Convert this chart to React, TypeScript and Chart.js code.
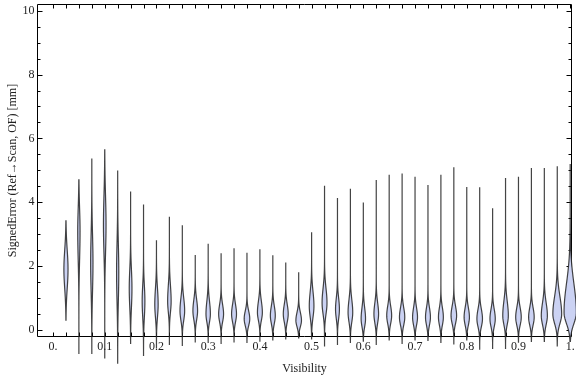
import { useEffect, useRef } from 'react';
import { Chart, registerables } from 'chart.js';

Chart.register(...registerables);

// ---- data ----
const positions = [
  0.025, 0.05, 0.075, 0.1, 0.125, 0.15, 0.175, 0.2, 0.225, 0.25,
  0.275, 0.3, 0.325, 0.35, 0.375, 0.4, 0.425, 0.45, 0.475, 0.5,
  0.525, 0.55, 0.575, 0.6, 0.625, 0.65, 0.675, 0.7, 0.725, 0.75,
  0.775, 0.8, 0.825, 0.85, 0.875, 0.9, 0.925, 0.95, 0.975, 1.0,
];
const highs = [
  3.42, 4.7, 5.35, 5.64, 4.98, 4.34, 3.93, 2.79, 3.55, 3.28,
  2.35, 2.7, 2.4, 2.56, 2.42, 2.53, 2.34, 2.11, 1.81, 3.06,
  4.52, 4.13, 4.42, 3.99, 4.7, 4.86, 4.9, 4.8, 4.54, 4.86,
  5.1, 4.48, 4.47, 3.81, 4.76, 4.8, 5.07, 5.07, 5.13, 5.2,
];
const lows = [
  0.31, -0.73, -0.73, -0.89, -1.04, -0.42, -0.8, -0.55, -0.45, -0.48,
  -0.37, -0.39, -0.42, -0.37, -0.39, -0.35, -0.31, -0.28, -0.25, -0.28,
  -0.5, -0.45, -0.39, -0.35, -0.45, -0.31, -0.42, -0.31, -0.33, -0.39,
  -0.44, -0.31, -0.6, -0.58, -0.58, -0.38, -0.36, -0.36, -0.5, -0.36,
];
const modes = [
  1.9, 3.1, 2.1, 3.3, 1.8, 1.3, 0.9, 0.8, 0.9, 0.6,
  0.6, 0.5, 0.5, 0.5, 0.35, 0.55, 0.45, 0.5, 0.3, 0.75,
  0.85, 0.65, 0.55, 0.35, 0.5, 0.45, 0.4, 0.4, 0.4, 0.4,
  0.45, 0.4, 0.35, 0.35, 0.45, 0.4, 0.4, 0.45, 0.5, 0.55,
];
const widths = [
  0.32, 0.18, 0.18, 0.2, 0.17, 0.21, 0.21, 0.26, 0.27, 0.36,
  0.36, 0.34, 0.38, 0.38, 0.43, 0.38, 0.38, 0.38, 0.43, 0.36,
  0.38, 0.3, 0.36, 0.34, 0.36, 0.38, 0.41, 0.38, 0.38, 0.38,
  0.43, 0.41, 0.43, 0.41, 0.43, 0.43, 0.43, 0.47, 0.68, 0.95,
];
const spreadUp = [
  0.6, 0.7, 0.9, 0.9, 0.9, 0.6, 0.5, 0.5, 0.5, 0.4,
  0.35, 0.4, 0.3, 0.3, 0.25, 0.35, 0.3, 0.3, 0.25, 0.45,
  0.45, 0.35, 0.4, 0.35, 0.35, 0.3, 0.3, 0.3, 0.3, 0.3,
  0.3, 0.3, 0.3, 0.3, 0.45, 0.3, 0.3, 0.4, 0.55, 0.9,
];
const spreadDown = [
  0.6, 0.9, 0.9, 0.9, 0.9, 0.6, 0.5, 0.4, 0.35, 0.3,
  0.28, 0.25, 0.25, 0.25, 0.22, 0.25, 0.25, 0.25, 0.2, 0.35,
  0.35, 0.3, 0.3, 0.25, 0.28, 0.25, 0.25, 0.25, 0.25, 0.25,
  0.25, 0.25, 0.25, 0.25, 0.28, 0.25, 0.25, 0.28, 0.3, 0.35,
];

const xTickValues = [0, 0.1, 0.2, 0.3, 0.4, 0.5, 0.6, 0.7, 0.8, 0.9, 1.0];
const xTickLabels = ['0.', '0.1', '0.2', '0.3', '0.4', '0.5', '0.6', '0.7', '0.8', '0.9', '1.'];
const yTickValues = [0, 2, 4, 6, 8, 10];
const yTickLabels = ['0', '2', '4', '6', '8', '10'];
const xTitle = 'Visibility';
const yTitle = 'SignedError (Ref\u2192Scan, OF) [mm]';

const BIN_HALF = 0.0125;
const FONT = '12px "Liberation Serif", "DejaVu Serif", serif';

const framePlugin = {
  id: 'mmaFrame',
  beforeDatasetsDraw(chart: any) {
    const { ctx, chartArea } = chart;
    const xs = chart.scales.x;
    const ys = chart.scales.y;
    const L = Math.round(chartArea.left) + 0.5;
    const R = Math.round(chartArea.right) - 0.5;
    const T = Math.round(chartArea.top) + 0.5;
    const B = Math.round(chartArea.bottom) - 0.5;
    ctx.save();
    ctx.strokeStyle = '#000';
    ctx.lineWidth = 1;
    ctx.beginPath();
    ctx.rect(L, T, R - L, B - T);
    ctx.stroke();
    ctx.beginPath();
    for (let k = 0; k <= 20; k++) {
      const v = k * 0.5;
      const py = Math.round(ys.getPixelForValue(v)) + 0.5;
      const len = k % 4 === 0 ? 5 : 3;
      ctx.moveTo(L, py); ctx.lineTo(L + len, py);
      ctx.moveTo(R, py); ctx.lineTo(R - len, py);
    }
    for (let k = 0; k <= 40; k++) {
      const px = Math.round(xs.getPixelForValue(k * 0.025)) + 0.5;
      const len = 4;
      ctx.moveTo(px, B); ctx.lineTo(px, B - len);
      ctx.moveTo(px, T); ctx.lineTo(px, T + len);
    }
    ctx.stroke();
    ctx.fillStyle = '#222';
    ctx.font = FONT;
    ctx.textAlign = 'right';
    ctx.textBaseline = 'middle';
    yTickValues.forEach((v, i) => {
      ctx.fillText(yTickLabels[i], L - 3, ys.getPixelForValue(v));
    });
    ctx.textAlign = 'center';
    ctx.textBaseline = 'top';
    xTickValues.forEach((v, i) => {
      ctx.fillText(xTickLabels[i], xs.getPixelForValue(v), B + 4);
    });
    ctx.textBaseline = 'alphabetic';
    ctx.fillText(xTitle, (chartArea.left + chartArea.right) / 2, 372);
    ctx.save();
    ctx.translate(13, (chartArea.top + chartArea.bottom) / 2);
    ctx.rotate(-Math.PI / 2);
    ctx.textBaseline = 'middle';
    ctx.fillText(yTitle, 0, 0);
    ctx.restore();
    ctx.restore();
  },
};

const violinPlugin = {
  id: 'violins',
  afterDatasetsDraw(chart: any) {
    const { ctx } = chart;
    const xs = chart.scales.x;
    const ys = chart.scales.y;
    const unit = xs.getPixelForValue(BIN_HALF) - xs.getPixelForValue(0);
    ctx.save();
    positions.forEach((p, i) => {
      const cx = xs.getPixelForValue(p);
      const W = widths[i] * unit;
      const lo = lows[i];
      const hi = highs[i];
      const m = modes[i];
      const n = 160;
      const pts: [number, number][] = [];
      for (let j = 0; j <= n; j++) {
        const v = lo + ((hi - lo) * j) / n;
        const s = v >= m ? spreadUp[i] : spreadDown[i];
        const g = Math.exp(-0.5 * ((v - m) / s) ** 2);
        pts.push([W * g, ys.getPixelForValue(v)]);
      }
      ctx.beginPath();
      pts.forEach(([hw, py], j) => {
        if (j === 0) ctx.moveTo(cx + hw, py);
        else ctx.lineTo(cx + hw, py);
      });
      for (let j = pts.length - 1; j >= 0; j--) {
        ctx.lineTo(cx - pts[j][0], pts[j][1]);
      }
      ctx.closePath();
      ctx.fillStyle = 'rgb(203, 210, 243)';
      ctx.fill();
      ctx.lineWidth = 1.2;
      ctx.strokeStyle = 'rgba(35, 35, 35, 0.85)';
      ctx.stroke();
    });
    ctx.restore();
  },
};

export default function App() {
  const ref = useRef<HTMLCanvasElement | null>(null);
  useEffect(() => {
    if (!ref.current) return;
    const chart = new Chart(ref.current, {
      type: 'scatter',
      data: {
        datasets: [
          {
            data: positions.map((p, i) => ({ x: p, y: modes[i] })),
            pointRadius: 0,
            showLine: false,
          },
        ],
      },
      options: {
        animation: false,
        responsive: false,
        devicePixelRatio: 1,
        layout: { padding: { left: 37, top: 4, right: 4, bottom: 40 } },
        plugins: { legend: { display: false }, tooltip: { enabled: false } },
        scales: {
          x: { type: 'linear', min: -0.031, max: 1.0035, display: false },
          y: { type: 'linear', min: -0.22, max: 10.21, display: false },
        },
      },
      plugins: [framePlugin, violinPlugin],
    });
    return () => chart.destroy();
  }, []);
  return (
    <div style={{ position: 'fixed', left: 0, top: 0, width: 576, height: 377, background: '#fff' }}>
      <canvas ref={ref} width={576} height={377} style={{ display: 'block' }} />
    </div>
  );
}
